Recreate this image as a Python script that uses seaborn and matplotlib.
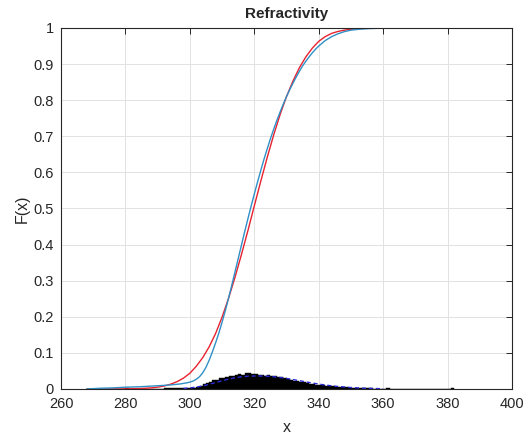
import numpy as np
import pandas as pd
import seaborn as sns
import matplotlib
matplotlib.use("Agg")
import matplotlib.pyplot as plt

# Fitted (normal) CDF of refractivity
fit_x = [268, 270, 275, 280, 285, 288, 290, 292, 294, 296, 298, 300, 302, 304, 306,
         308, 310, 312, 314, 316, 318, 320, 322, 324, 326, 328, 330, 332, 334, 336,
         338, 340, 342, 344, 346, 348, 350, 353, 356, 360, 365, 381]
fit_cdf = [0.0000, 0.0000, 0.0001, 0.0003, 0.0014, 0.0031, 0.0051, 0.0082, 0.0132,
           0.0202, 0.0300, 0.0436, 0.0630, 0.0870, 0.1170, 0.1540, 0.1990, 0.2510,
           0.3090, 0.3720, 0.4380, 0.5070, 0.5750, 0.6410, 0.7030, 0.7600, 0.8100,
           0.8530, 0.8900, 0.9200, 0.9440, 0.9630, 0.9760, 0.9850, 0.9905, 0.9940,
           0.9965, 0.9985, 0.9994, 0.9999, 1.0000, 1.0000]

# Empirical CDF of refractivity
emp_x = [268, 272, 276, 280, 284, 288, 292, 295, 297, 299, 300, 301, 302, 303, 304,
         305, 306, 307, 308, 309, 310, 311, 312, 313, 314, 315, 316, 317, 318, 319,
         320, 321, 322, 323, 324, 325, 326, 327, 328, 329, 330, 331, 332, 333, 334,
         335, 336, 337, 338, 339, 340, 342, 344, 346, 348, 350, 353, 356, 360, 370, 381]
emp_cdf = [0.000, 0.002, 0.003, 0.005, 0.006, 0.008, 0.010, 0.012, 0.014, 0.017,
           0.019, 0.022, 0.027, 0.034, 0.045, 0.060, 0.080, 0.103, 0.128, 0.155,
           0.185, 0.217, 0.251, 0.287, 0.324, 0.361, 0.398, 0.435, 0.471, 0.506,
           0.540, 0.573, 0.605, 0.636, 0.665, 0.693, 0.719, 0.744, 0.767, 0.789,
           0.810, 0.829, 0.847, 0.864, 0.880, 0.895, 0.908, 0.920, 0.931, 0.941,
           0.950, 0.965, 0.976, 0.984, 0.990, 0.994, 0.997, 0.9985, 0.9995, 1.000, 1.000]

# Density histogram of refractivity (1-unit bins starting at 268)
hist_start = 268
hist_density = [
    0.0004, 0.0004, 0.0005, 0.0004, 0.0005, 0.0004, 0.0005, 0.0005, 0.0004, 0.0005,  # 268-277
    0.0005, 0.0006, 0.0030, 0.0006, 0.0007, 0.0007, 0.0008, 0.0008, 0.0009, 0.0010,  # 278-287
    0.0010, 0.0011, 0.0012, 0.0013, 0.0014, 0.0015, 0.0016, 0.0018, 0.0019, 0.0021,  # 288-297
    0.0023, 0.0026, 0.0030, 0.0040, 0.0060, 0.0090, 0.0130, 0.0160, 0.0200, 0.0240,  # 298-307
    0.0260, 0.0300, 0.0310, 0.0340, 0.0360, 0.0350, 0.0400, 0.0420, 0.0400, 0.0440,  # 308-317
    0.0430, 0.0410, 0.0420, 0.0380, 0.0400, 0.0370, 0.0380, 0.0360, 0.0350, 0.0330,  # 318-327
    0.0320, 0.0300, 0.0280, 0.0250, 0.0230, 0.0210, 0.0190, 0.0180, 0.0160, 0.0150,  # 328-337
    0.0135, 0.0120, 0.0110, 0.0100, 0.0090, 0.0080, 0.0072, 0.0064, 0.0057, 0.0050,  # 338-347
    0.0045, 0.0040, 0.0035, 0.0031, 0.0027, 0.0023, 0.0020, 0.0017, 0.0015, 0.0013,  # 348-357
    0.0012, 0.0011, 0.0010, 0.0030, 0.0009, 0.0008, 0.0008, 0.0007, 0.0007, 0.0006,  # 358-367
    0.0006, 0.0006, 0.0005, 0.0005, 0.0005, 0.0005, 0.0005, 0.0005, 0.0004, 0.0004,  # 368-377
    0.0004, 0.0004, 0.0004, 0.0030,                                                  # 378-381
]

# Fitted probability density
pdf_x = [298, 300, 302, 304, 306, 308, 310, 312, 314, 316, 318, 320, 322, 324, 326,
         328, 330, 332, 334, 336, 338, 340, 342, 344, 346, 350, 355, 360]
pdf_y = [0.0015, 0.0030, 0.0052, 0.0085, 0.0130, 0.0180, 0.0228, 0.0272, 0.0310,
         0.0338, 0.0354, 0.0360, 0.0360, 0.0354, 0.0340, 0.0318, 0.0292, 0.0262,
         0.0230, 0.0198, 0.0166, 0.0137, 0.0110, 0.0088, 0.0070, 0.0040, 0.0018, 0.0008]

x_ticks = [260, 280, 300, 320, 340, 360, 380, 400]
y_ticks = [0, 0.1, 0.2, 0.3, 0.4, 0.5, 0.6, 0.7, 0.8, 0.9, 1]
y_tick_labels = ["0", "0.1", "0.2", "0.3", "0.4", "0.5", "0.6", "0.7", "0.8", "0.9", "1"]

sns.set_style("white")
plt.rcParams["font.family"] = ["Liberation Sans", "DejaVu Sans"]

fig = plt.figure(figsize=(5.31, 4.34), dpi=100)
ax = fig.add_axes([0.1149, 0.1037, 0.8493, 0.8318])

n_bins = len(hist_density)
bin_centers = hist_start + 0.5 + np.arange(n_bins)
hist_df = pd.DataFrame({"x": bin_centers, "w": hist_density})
sns.histplot(data=hist_df, x="x", weights="w", binwidth=1,
             binrange=(hist_start, hist_start + n_bins), stat="count",
             element="bars", color="black", edgecolor="black", linewidth=0.3,
             alpha=1, ax=ax)

pdf_df = pd.DataFrame({"x": pdf_x, "y": pdf_y})
sns.lineplot(data=pdf_df, x="x", y="y", color="#2a2ad6", linewidth=1.0,
             linestyle=(0, (3, 2)), ax=ax)

fit_df = pd.DataFrame({"x": fit_x, "F": fit_cdf})
emp_df = pd.DataFrame({"x": emp_x, "F": emp_cdf})
sns.lineplot(data=fit_df, x="x", y="F", color="#e8222e", linewidth=1.0, ax=ax)
sns.lineplot(data=emp_df, x="x", y="F", color="#2f8fc6", linewidth=1.0, ax=ax)

ax.set_xlim(260, 400)
ax.set_ylim(0, 1)
ax.set_xticks(x_ticks)
ax.set_yticks(y_ticks)
ax.set_yticklabels(y_tick_labels)
ax.grid(True, color="#e2e2e2", linewidth=0.7)
ax.set_axisbelow(True)
for s in ax.spines.values():
    s.set_color("#262626")
    s.set_linewidth(0.8)
ax.tick_params(direction="in", length=4, width=0.7, colors="#262626",
               labelsize=10.5, top=True, right=True, labelcolor="#262626")
ax.tick_params(axis="x", pad=6)
ax.tick_params(axis="y", pad=5)

ax.set_title("Refractivity", fontsize=11, fontweight="bold", pad=7)
ax.set_xlabel("x", fontsize=11.5, color="#262626", labelpad=6)
ax.set_ylabel("F(x)", fontsize=11.5, color="#262626", labelpad=3)

fig.savefig("out.png", dpi=100)
